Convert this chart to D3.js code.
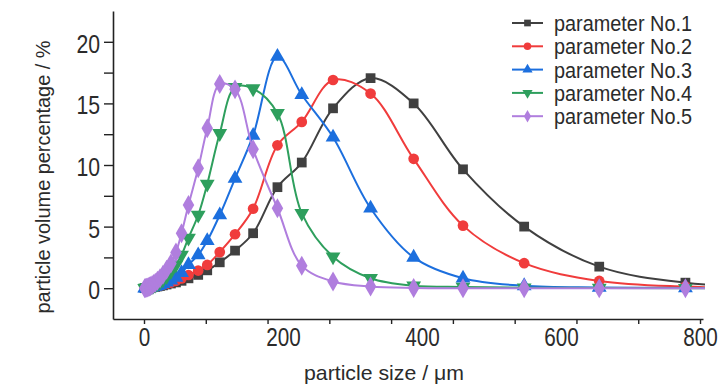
<!DOCTYPE html>
<html><head><meta charset="utf-8">
<script src="https://cdn.jsdelivr.net/npm/d3@7"></script>
<style>
html,body{margin:0;padding:0;background:#fff;}
svg text{font-family:"Liberation Sans",Arial,sans-serif;fill:#2b2b2b;}
</style></head>
<body>
<svg id="chart" width="728" height="390"></svg>
<script>
// particle size bins (µm)
const sizes = [1.0, 2.0, 3.4, 4.8, 6.8, 8.1, 9.6, 11.5, 13.6, 16.2, 19.3, 23.0, 27.3, 32.5, 38.7, 46, 54, 64, 78, 91, 109, 131, 157, 192, 227, 272, 326, 388, 459, 547, 655, 779, 927];
// particle volume percentage (%)
const param1 = [0.0, 0.01, 0.02, 0.03, 0.04, 0.05, 0.06, 0.07, 0.09, 0.11, 0.14, 0.18, 0.23, 0.30, 0.38, 0.47, 0.60, 0.80, 1.08, 1.45, 2.10, 3.05, 4.46, 8.2, 10.2, 14.6, 17.05, 15.0, 9.65, 5.0, 1.75, 0.45, 0.08];
const param2 = [0.0, 0.01, 0.02, 0.03, 0.05, 0.06, 0.07, 0.09, 0.11, 0.14, 0.17, 0.22, 0.29, 0.37, 0.46, 0.60, 0.80, 1.07, 1.43, 1.89, 2.93, 4.38, 6.45, 11.6, 13.5, 16.9, 15.8, 10.5, 5.08, 2.03, 0.59, 0.13, 0.02];
const param3 = [0.0, 0.01, 0.02, 0.03, 0.04, 0.05, 0.06, 0.08, 0.11, 0.15, 0.20, 0.27, 0.36, 0.48, 0.65, 0.88, 1.25, 1.90, 2.70, 3.85, 5.94, 8.9, 12.4, 18.8, 15.7, 12.25, 6.49, 2.5, 0.81, 0.19, 0.06, 0.02, 0.0];
const param4 = [0.0, 0.01, 0.02, 0.04, 0.06, 0.08, 0.10, 0.14, 0.19, 0.26, 0.36, 0.50, 0.70, 0.95, 1.35, 1.90, 2.70, 4.08, 5.94, 8.46, 12.57, 16.3, 16.2, 14.2, 6.08, 2.56, 0.81, 0.20, 0.10, 0.04, 0.01, 0.0, 0.0];
const param5 = [0.0, 0.01, 0.03, 0.06, 0.09, 0.13, 0.18, 0.25, 0.34, 0.45, 0.60, 0.80, 1.10, 1.50, 2.00, 2.90, 4.46, 6.76, 9.73, 12.98, 16.57, 16.14, 11.27, 6.49, 1.83, 0.54, 0.13, 0.02, 0.0, 0.0, 0.0, 0.0, 0.0];

const seriesNames = ["parameter No.1", "parameter No.2", "parameter No.3", "parameter No.4", "parameter No.5"];
const seriesValues = [param1, param2, param3, param4, param5];
const seriesColors = ["#404040", "#f03c3c", "#1c6fde", "#2e9f5d", "#b07ede"];
const seriesSymbols = [d3.symbolSquare, d3.symbolCircle, d3.symbolTriangle, d3.symbolTriangle, d3.symbolDiamond];
const symbolRotate = [0, 0, 0, 180, 0];

const yTickLabels = [0, 5, 10, 15, 20];
const yMinorTicks = [0, 2.5, 5, 7.5, 10, 12.5, 15, 17.5, 20];
const xTickLabels = [0, 200, 400, 600, 800];
const xMinorCount = 9;

const svg = d3.select("#chart");
const x = d3.scaleLinear().domain([-44.6, 804.3]).range([113, 703]);
const y = d3.scaleLinear().domain([-2.5, 22.5]).range([319, 11]);

svg.append("defs").append("clipPath").attr("id", "plotclip")
  .append("rect").attr("x", x.range()[0]).attr("y", 0)
  .attr("width", x.range()[1] - x.range()[0] + 2).attr("height", y.range()[0]);

// axes
const axisColor = "#222";
const gx = svg.append("g").attr("transform", `translate(0,${y.range()[0]})`)
  .call(d3.axisBottom(x).tickValues(d3.range(xMinorCount + 1).map(i => i * 800 / xMinorCount))
    .tickSize(5).tickSizeOuter(0).tickFormat(""));
gx.select(".domain").attr("stroke", axisColor).attr("stroke-width", 1.6);
gx.selectAll(".tick line").attr("stroke", axisColor).attr("stroke-width", 1.4);

const gxl = svg.append("g").attr("transform", `translate(0,${y.range()[0]})`)
  .call(d3.axisBottom(x).tickValues(xTickLabels).tickSize(0).tickPadding(9));
gxl.select(".domain").remove();
gxl.selectAll(".tick text").attr("font-size", 25).attr("fill", "#2b2b2b")
  .attr("font-family", '"Liberation Sans",Arial,sans-serif')
  .each(function(d){ const s = String(d); d3.select(this).attr("textLength", s.length * 11.5).attr("lengthAdjust", "spacingAndGlyphs"); });

const gy = svg.append("g").attr("transform", `translate(${x.range()[0]},0)`)
  .call(d3.axisLeft(y).tickValues(yMinorTicks).tickSize(9).tickSizeOuter(0).tickFormat(""));
gy.select(".domain").attr("stroke", axisColor).attr("stroke-width", 1.6);
gy.selectAll(".tick line").attr("stroke", axisColor).attr("stroke-width", 1.4);

const gyl = svg.append("g").attr("transform", `translate(${x.range()[0]},0)`)
  .call(d3.axisLeft(y).tickValues(yTickLabels).tickSize(0).tickPadding(13));
gyl.select(".domain").remove();
gyl.selectAll(".tick text").attr("font-size", 25).attr("fill", "#2b2b2b").attr("dy", "0.42em")
  .attr("font-family", '"Liberation Sans",Arial,sans-serif')
  .each(function(d){ const s = String(d); d3.select(this).attr("textLength", s.length * 11.8).attr("lengthAdjust", "spacingAndGlyphs"); });

// axis titles
svg.append("text").attr("x", 384).attr("y", 380).attr("text-anchor", "middle")
  .attr("font-size", 21).attr("textLength", 160).attr("lengthAdjust", "spacingAndGlyphs")
  .text("particle size / \u03BCm");
svg.append("text").attr("transform", "translate(50,177) rotate(-90)").attr("text-anchor", "middle")
  .attr("font-size", 21).attr("textLength", 273).attr("lengthAdjust", "spacingAndGlyphs")
  .text("particle volume percentage / %");

// series
const line = d3.line().x(d => x(d[0])).y(d => y(d[1])).curve(d3.curveCatmullRom.alpha(0.5));
const plot = svg.append("g").attr("clip-path", "url(#plotclip)");
seriesValues.forEach((vals, i) => {
  const pts = sizes.map((s, j) => [s, vals[j]]);
  const g = plot.append("g");
  g.append("path").datum(pts).attr("d", line).attr("fill", "none")
    .attr("stroke", seriesColors[i]).attr("stroke-width", 2);
  const sym = d3.symbol().type(seriesSymbols[i]).size(i === 4 ? 115 : (i === 1 ? 90 : 95));
  g.selectAll("path.m").data(pts).join("path").attr("class", "m")
    .attr("d", sym)
    .attr("transform", d => `translate(${x(d[0])},${y(d[1])}) rotate(${symbolRotate[i]})`)
    .attr("fill", seriesColors[i]);
});

// legend
const legend = svg.append("g");
seriesNames.forEach((name, i) => {
  const ly = 23 + i * 23.3;
  legend.append("line").attr("x1", 512).attr("x2", 543).attr("y1", ly).attr("y2", ly)
    .attr("stroke", seriesColors[i]).attr("stroke-width", 2);
  legend.append("path").attr("d", d3.symbol().type(seriesSymbols[i]).size(45))
    .attr("transform", `translate(527.5,${ly}) rotate(${symbolRotate[i]})`)
    .attr("fill", seriesColors[i]);
  legend.append("text").attr("x", 554).attr("y", ly + 8).attr("font-size", 22)
    .attr("textLength", 138).attr("lengthAdjust", "spacingAndGlyphs").text(name);
});
</script>
</body></html>
